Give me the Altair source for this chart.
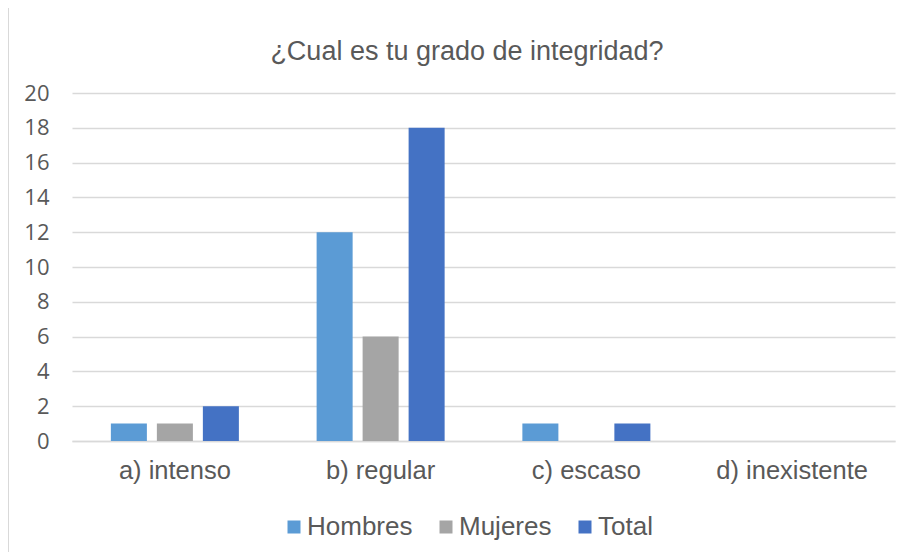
import altair as alt
import pandas as pd

categorias = ["a) intenso", "b) regular", "c) escaso", "d) inexistente"]
series = ["Hombres", "Mujeres", "Total"]
hombres = [1, 12, 1, 0]
mujeres = [1, 6, 0, 0]
total = [2, 18, 1, 0]
colores = ["#5B9BD5", "#A5A5A5", "#4472C4"]
titulo = "¿Cual es tu grado de integridad?"

rows = []
for s, vals in zip(series, [hombres, mujeres, total]):
    for c, v in zip(categorias, vals):
        rows.append({"categoria": c, "serie": s, "valor": v})
df = pd.DataFrame(rows)

TEXT = "#595959"
GRID = "#D9D9D9"

bars = alt.Chart(df).mark_bar().encode(
    x=alt.X("categoria:N", sort=categorias, title=None,
            scale=alt.Scale(paddingInner=0, paddingOuter=0),
            axis=alt.Axis(labelAngle=0, labelFont="Liberation Sans", labelFontSize=25.5,
                          labelColor=TEXT, labelPadding=17, ticks=False,
                          domainColor=GRID, domainWidth=1.5)),
    xOffset=alt.XOffset("serie:N", sort=series,
                        scale=alt.Scale(paddingInner=0.217, paddingOuter=0.845)),
    y=alt.Y("valor:Q", title=None,
            scale=alt.Scale(domain=[0, 20], nice=False),
            axis=alt.Axis(values=list(range(0, 21, 2)), labelFont="Open Sans",
                          labelFontSize=22, labelColor=TEXT, labelPadding=23,
                          ticks=False, domain=False, gridColor=GRID, gridWidth=1.5)),
    color=alt.Color("serie:N", sort=series,
                    scale=alt.Scale(domain=series, range=colores),
                    legend=alt.Legend(title=None, orient="none", direction="horizontal",
                                      legendX=209, legendY=421, symbolType="square",
                                      symbolSize=169, symbolStrokeWidth=0,
                                      labelFont="Liberation Sans", labelFontSize=26,
                                      labelColor=TEXT, labelOffset=0, columnPadding=20,
                                      padding=0)),
)

border = alt.Chart(pd.DataFrame({"v": [0]})).mark_rule(color=GRID, strokeWidth=2).encode(
    x=alt.value(-64), y=alt.value(-85), y2=alt.value(470)
)

title_mark = alt.Chart(pd.DataFrame({"t": [titulo]})).mark_text(
    font="Liberation Sans", fontSize=27, color=TEXT, align="center", baseline="alphabetic"
).encode(x=alt.value(395), y=alt.value(-33), text="t:N")

chart = alt.layer(border, title_mark, bars).properties(
    width=823, height=348,
    padding={"left": 64, "top": 85, "right": 8, "bottom": 111},
    autosize=alt.AutoSizeParams(type="none"),
).configure_view(stroke=None)

chart.save("out.html", embed_options={"renderer": "svg", "actions": False})
